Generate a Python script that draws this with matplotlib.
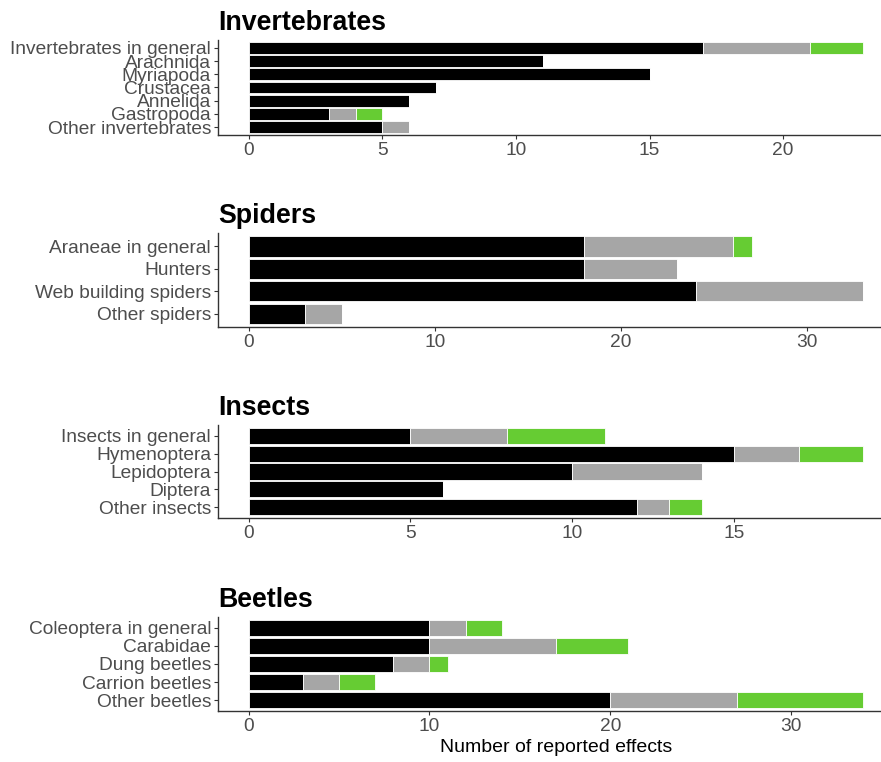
import numpy as np
import matplotlib.pyplot as plt

plt.rcParams['font.family'] = ['Liberation Sans', 'DejaVu Sans']

# Data: counts per segment (black, gray, green)
inv_labels = ['Invertebrates in general', 'Arachnida', 'Myriapoda', 'Crustacea',
              'Annelida', 'Gastropoda', 'Other invertebrates']
inv_black = [17, 11, 15, 7, 6, 3, 5]
inv_gray = [4, 0, 0, 0, 0, 1, 1]
inv_green = [2, 0, 0, 0, 0, 1, 0]

spi_labels = ['Araneae in general', 'Hunters', 'Web building spiders', 'Other spiders']
spi_black = [18, 18, 24, 3]
spi_gray = [8, 5, 9, 2]
spi_green = [1, 0, 0, 0]

ins_labels = ['Insects in general', 'Hymenoptera', 'Lepidoptera', 'Diptera', 'Other insects']
ins_black = [5, 15, 10, 6, 12]
ins_gray = [3, 2, 4, 0, 1]
ins_green = [3, 2, 0, 0, 1]

bee_labels = ['Coleoptera in general', 'Carabidae', 'Dung beetles', 'Carrion beetles', 'Other beetles']
bee_black = [10, 10, 8, 3, 20]
bee_gray = [2, 7, 2, 2, 7]
bee_green = [2, 4, 1, 2, 7]

panels = [
    ('Invertebrates', inv_labels, inv_black, inv_gray, inv_green, [0, 5, 10, 15, 20], 40, 135),
    ('Spiders', spi_labels, spi_black, spi_gray, spi_green, [0, 10, 20, 30], 233, 327),
    ('Insects', ins_labels, ins_black, ins_gray, ins_green, [0, 5, 10, 15], 425, 518),
    ('Beetles', bee_labels, bee_black, bee_gray, bee_green, [0, 10, 20, 30], 617, 711),
]

W, H = 881, 762
fig = plt.figure(figsize=(W / 100, H / 100), dpi=100)

colors = ['#000000', '#A6A6A6', '#66CC33']
axis_col = '#333333'
text_col = '#4D4D4D'

for i, (title, labels, b, g, gr, ticks, top, bottom) in enumerate(panels):
    ax = fig.add_axes([218 / W, 1 - bottom / H, (894 - 218) / W, (bottom - top) / H])
    b = np.array(b)
    g = np.array(g)
    gr = np.array(gr)
    y = np.arange(len(labels))
    ax.barh(y, b, height=0.9, color=colors[0], edgecolor='white', linewidth=0.6)
    ax.barh(y, g, left=b, height=0.9, color=colors[1], edgecolor='white', linewidth=0.6)
    ax.barh(y, gr, left=b + g, height=0.9, color=colors[2], edgecolor='white', linewidth=0.6)

    m = (b + g + gr).max()
    ax.set_xlim(-0.05 * m, 1.05 * m)
    ax.set_ylim(len(labels) - 0.4, -0.6)
    ax.set_xticks(ticks)
    ax.set_yticks(y)
    ax.set_yticklabels(labels)
    ax.tick_params(axis='both', labelsize=13.8, colors=axis_col, labelcolor=text_col,
                   length=3, width=0.8, pad=2)
    for s in ['top', 'right']:
        ax.spines[s].set_visible(False)
    for s in ['left', 'bottom']:
        ax.spines[s].set_color(axis_col)
        ax.spines[s].set_linewidth(1.0)
    ax.set_title(title, loc='left', fontsize=19.3, fontweight='bold', pad=7)
    if i == 3:
        ax.set_xlabel('Number of reported effects', fontsize=14, labelpad=3)

fig.savefig('out.png', dpi=100)
